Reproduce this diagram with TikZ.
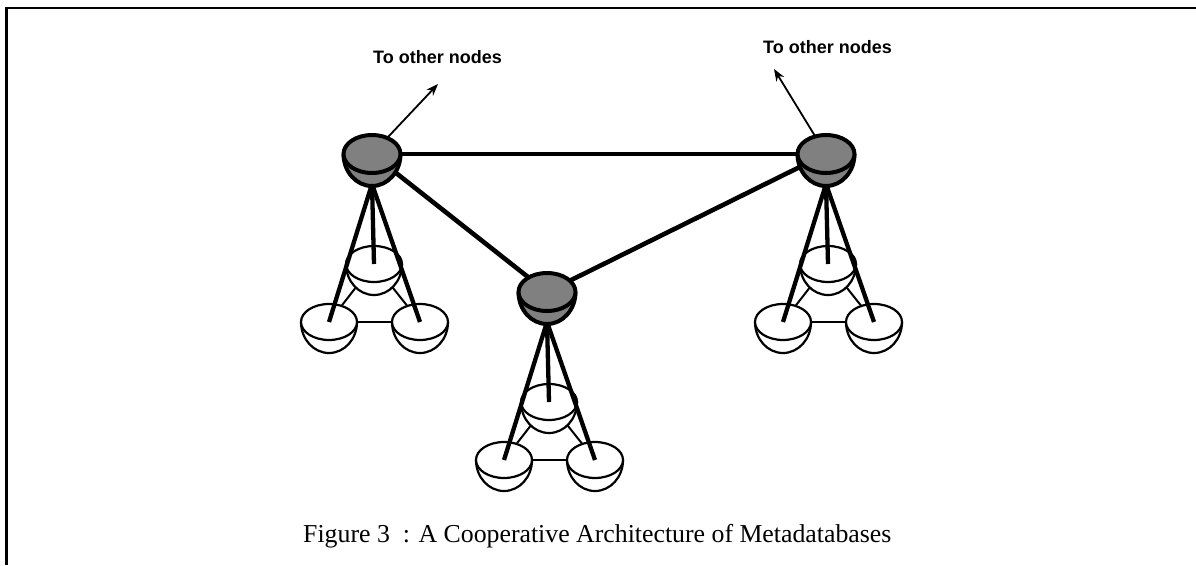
\documentclass[tikz,border=0pt]{standalone}
\usepackage{fontspec}
\usetikzlibrary{arrows.meta,shapes.geometric}
\newfontfamily\labelsans{Liberation Sans}
\newfontfamily\captionserif{Liberation Serif}
\definecolor{hubgray}{RGB}{128,128,128}

\begin{document}
\begin{tikzpicture}[x=1pt,y=1pt,
  hubspot/.style={ellipse, minimum width=57pt, minimum height=38pt, inner sep=0pt},
  leafspot/.style={ellipse, minimum width=56pt, minimum height=36pt, inner sep=0pt},
  link/.style={line width=4.6pt},
  leg/.style={line width=4.3pt},
  peer/.style={line width=2pt},
  outward/.style={line width=1.8pt, -{Stealth[length=12pt,width=9pt]}},
  tag/.style={font=\labelsans\bfseries\fontsize{18}{20}\selectfont, anchor=base west, inner sep=0pt},
  pics/hub/.style={code={
    \fill[hubgray] (-28.5,0) arc[start angle=180,end angle=360,x radius=28.5,y radius=32] -- cycle;
    \draw[line width=4pt] (-28.5,0) arc[start angle=180,end angle=360,x radius=28.5,y radius=32];
    \filldraw[fill=hubgray,line width=4pt] (0,0) ellipse[x radius=28.5,y radius=19];
  }},
  pics/leaf/.style={code={
    \fill[white] (-28,0) arc[start angle=180,end angle=360,x radius=28,y radius=31] -- cycle;
    \draw[line width=2.2pt] (-28,0) arc[start angle=180,end angle=360,x radius=28,y radius=31];
    \filldraw[fill=white,line width=2.2pt] (0,0) ellipse[x radius=28,y radius=18];
  }},
]
\useasboundingbox (0,0) rectangle (1196,-565);

% page frame
\draw[line width=2.6pt] (6.5,-565) -- (6.5,-8) -- (1196,-8);

% hubs (rim ellipses) and the bottoms of their bowls
\node[hubspot] (hubL) at (372,-154) {};
\node[hubspot] (hubC) at (547,-292) {};
\node[hubspot] (hubR) at (826,-154) {};
\coordinate (baseL) at (372,-184);
\coordinate (baseC) at (547,-322);
\coordinate (baseR) at (826,-184);

% local databases under each hub
\node[leafspot] (aL) at (374,-264) {};
\node[leafspot] (bL) at (329,-322) {};
\node[leafspot] (cL) at (420,-322) {};
\node[leafspot] (aC) at (549,-402) {};
\node[leafspot] (bC) at (504,-460) {};
\node[leafspot] (cC) at (595,-460) {};
\node[leafspot] (aR) at (828,-264) {};
\node[leafspot] (bR) at (783,-322) {};
\node[leafspot] (cR) at (874,-322) {};

% links among local databases
\foreach \g in {L,C,R}{
  \draw[peer] (a\g.center) -- (b\g.center);
  \draw[peer] (b\g.center) -- (c\g.center);
  \draw[peer] (c\g.center) -- (a\g.center);
}
\foreach \g in {L,C,R}{
  \pic at (a\g) {leaf};
  \pic at (b\g) {leaf};
  \pic at (c\g) {leaf};
}

% legs from each hub to its databases
\foreach \g in {L,C,R}{
  \draw[leg] (base\g) -- (a\g.center);
  \draw[leg] (base\g) -- (b\g.center);
  \draw[leg] (base\g) -- (c\g.center);
}

% links between hubs
\draw[link] (hubL.center) -- (hubR.center);
\draw[link] (hubL.center) -- (hubC.center);
\draw[link] (hubC.center) -- (hubR.center);

\pic at (hubL) {hub};
\pic at (hubC) {hub};
\pic at (hubR) {hub};

% connections leaving the network
\coordinate (tipL) at (438,-84);
\coordinate (tipR) at (774,-69);
\draw[outward] (hubL) -- (tipL);
\draw[outward] (hubR) -- (tipR);

\node[tag] (lblL) at (373,-63) {To other nodes};
\node[tag] (lblR) at (763,-53) {To other nodes};

\node[font=\captionserif\fontsize{25.8}{30}\selectfont, anchor=base west, inner sep=0pt]
  (caption) at (303,-542) {Figure 3\ \ : A Cooperative Architecture of Metadatabases};
\end{tikzpicture}
\end{document}
